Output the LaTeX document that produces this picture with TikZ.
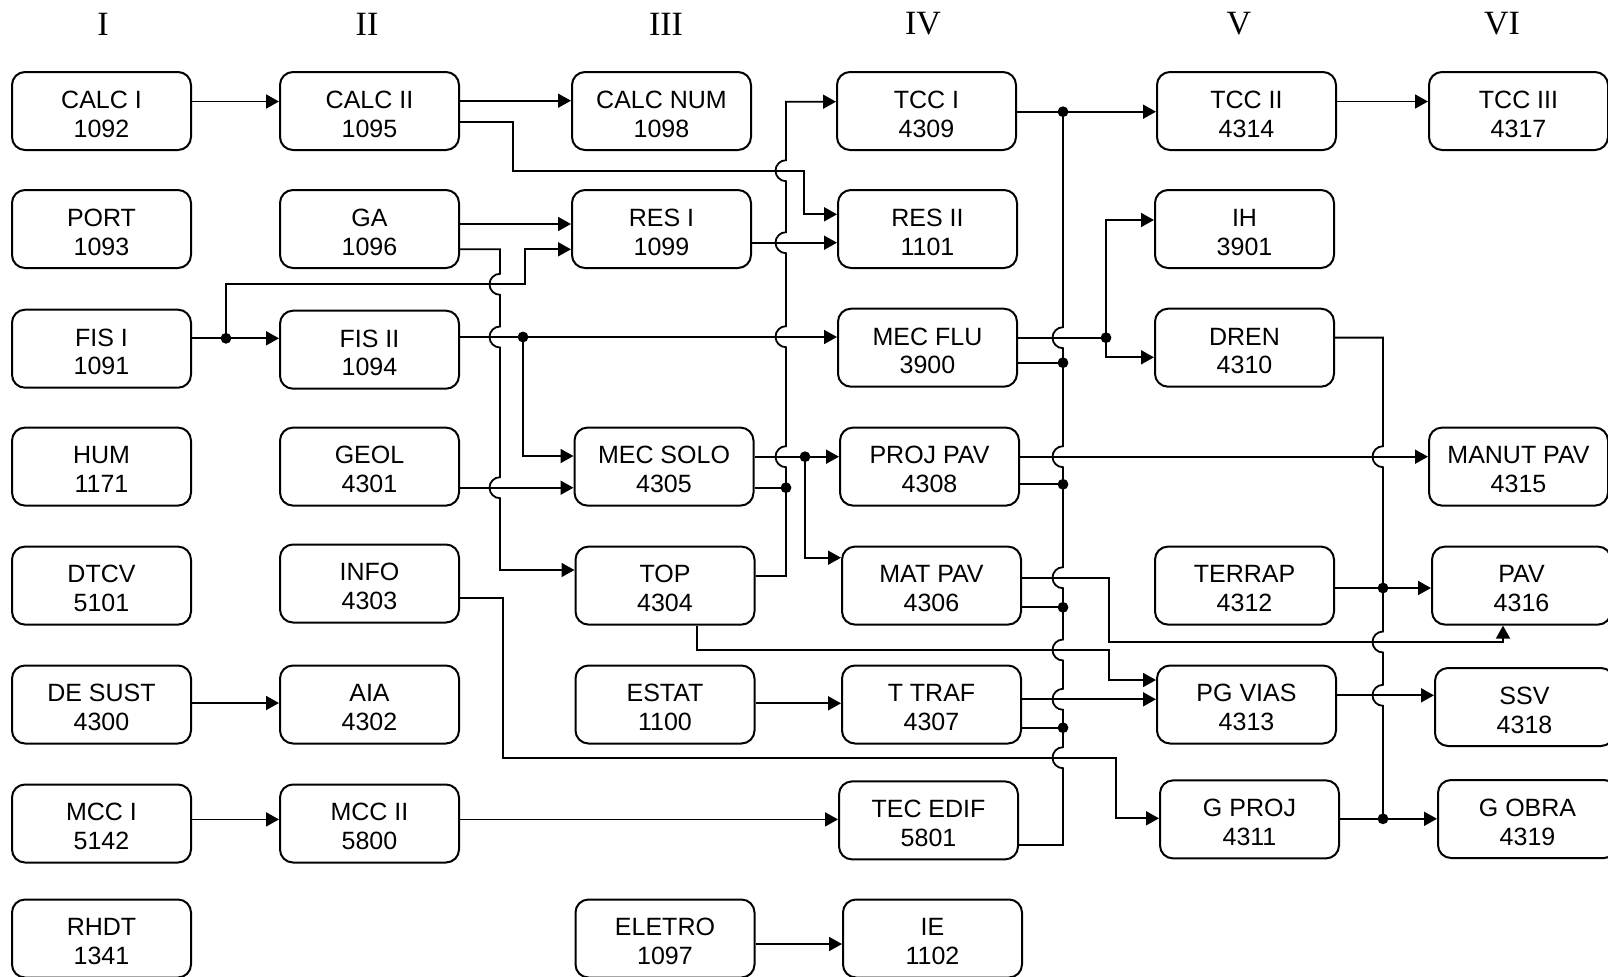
\documentclass[tikz,border=0pt]{standalone}
\usepackage{fontspec}
\setmainfont{Liberation Sans}
\newfontfamily\hdrfont{Liberation Serif}
\usetikzlibrary{arrows.meta}
\newcommand{\jumpdown}[2]{-- (#1,#2-10.5) arc[start angle=90,end angle=270,radius=5.25pt]}
\newcommand{\jumpup}[2]{-- (#1,#2+10.5) arc[start angle=270,end angle=90,radius=5.25pt]}
\newcommand{\twoline}[2]{\raisebox{-3pt}[\height][\depth]{\begin{tabular}{@{}c@{}}#1\\#2\end{tabular}}}
\begin{document}
\begin{tikzpicture}[x=0.5pt,y=-0.5pt,
  box/.style={draw, line width=1pt, rounded corners=6.5pt, minimum width=89.5pt, minimum height=39pt, inner sep=0pt, font=\fontsize{12.5}{14.4}\selectfont},
  hdr/.style={font=\hdrfont\fontsize{17}{17}\selectfont, inner sep=0pt},
  conn/.style={line width=0.9pt},
  arr/.style={conn, -{Triangle[length=6.5pt,width=7pt]}},
  dot/.style={circle, fill, inner sep=0pt, minimum size=5.4pt}]
\useasboundingbox (0,0) rectangle (1608,976);
% headers
\node[hdr] (h1) at (103,24) {I};
\node[hdr] (h2) at (367,24) {II};
\node[hdr] (h3) at (666,24) {III};
\node[hdr] (h4) at (923,24) {IV};
\node[hdr] (h5) at (1239,24) {V};
\node[hdr] (h6) at (1502,24) {VI};
% column I
\node[box] (calci) at (101.5,111) {\twoline{CALC I}{1092}};
\node[box] (port) at (101.5,229) {\twoline{PORT}{1093}};
\node[box] (fisi) at (101.5,348.7) {\twoline{FIS I}{1091}};
\node[box] (hum) at (101.5,466.6) {\twoline{HUM}{1171}};
\node[box] (dtcv) at (101.5,585.6) {\twoline{DTCV}{5101}};
\node[box] (desust) at (101.5,704.5) {\twoline{DE SUST}{4300}};
\node[box] (mcci) at (101.5,823.5) {\twoline{MCC I}{5142}};
\node[box] (rhdt) at (101.5,938.5) {\twoline{RHDT}{1341}};
% column II
\node[box] (calcii) at (369.5,111) {\twoline{CALC II}{1095}};
\node[box] (ga) at (369.5,229) {\twoline{GA}{1096}};
\node[box] (fisii) at (369.5,349.7) {\twoline{FIS II}{1094}};
\node[box] (geol) at (369.5,466.6) {\twoline{GEOL}{4301}};
\node[box] (info) at (369.5,583.5) {\twoline{INFO}{4303}};
\node[box] (aia) at (369.5,704.5) {\twoline{AIA}{4302}};
\node[box] (mccii) at (369.5,823.5) {\twoline{MCC II}{5800}};
% column III
\node[box] (calcnum) at (661.5,111) {\twoline{CALC NUM}{1098}};
\node[box] (resi) at (661.5,229) {\twoline{RES I}{1099}};
\node[box] (mecsolo) at (664,466.6) {\twoline{MEC SOLO}{4305}};
\node[box] (top) at (665,585.6) {\twoline{TOP}{4304}};
\node[box] (estat) at (665,704.5) {\twoline{ESTAT}{1100}};
\node[box] (eletro) at (665,938.5) {\twoline{ELETRO}{1097}};
% column IV
\node[box] (tcci) at (926.5,111) {\twoline{TCC I}{4309}};
\node[box] (resii) at (927.5,229) {\twoline{RES II}{1101}};
\node[box] (mecflu) at (927.5,347.7) {\twoline{MEC FLU}{3900}};
\node[box] (projpav) at (929.5,466.6) {\twoline{PROJ PAV}{4308}};
\node[box] (matpav) at (931.5,585.6) {\twoline{MAT PAV}{4306}};
\node[box] (ttraf) at (931.5,704.5) {\twoline{T TRAF}{4307}};
\node[box] (tecedif) at (928.5,820.4) {\twoline{TEC EDIF}{5801}};
\node[box] (ie) at (932.5,938.5) {\twoline{IE}{1102}};
% column V
\node[box] (tccii) at (1246.5,111) {\twoline{TCC II}{4314}};
\node[box] (ih) at (1244.5,229) {\twoline{IH}{3901}};
\node[box] (dren) at (1244.5,347.7) {\twoline{DREN}{4310}};
\node[box] (terrap) at (1244.5,585.6) {\twoline{TERRAP}{4312}};
\node[box] (pgvias) at (1246.5,704.5) {\twoline{PG VIAS}{4313}};
\node[box] (gproj) at (1249.5,819.4) {\twoline{G PROJ}{4311}};
% column VI
\node[box] (tcciii) at (1518.5,111) {\twoline{TCC III}{4317}};
\node[box] (manutpav) at (1518.5,466.6) {\twoline{MANUT PAV}{4315}};
\node[box] (pav) at (1521.5,585.6) {\twoline{PAV}{4316}};
\node[box] (ssv) at (1524.5,707) {\twoline{SSV}{4318}};
\node[box] (gobra) at (1527.5,819) {\twoline{G OBRA}{4319}};
% junction dots
\node[dot] (d1) at (226,338.3) {};
\node[dot] (d2) at (523,337) {};
\node[dot] (d3) at (786,487.7) {};
\node[dot] (d4) at (805,456.7) {};
\node[dot] (d5) at (1063,111.7) {};
\node[dot] (d6) at (1063,362.7) {};
\node[dot] (d7) at (1063,484.3) {};
\node[dot] (d8) at (1063,607.3) {};
\node[dot] (d9) at (1063,727.7) {};
\node[dot] (d10) at (1106,337.7) {};
\node[dot] (d11) at (1383,588) {};
\node[dot] (d12) at (1383,818.8) {};
% simple connectors
\draw[arr] (calci.east |- 0,101.5) -- (calcii.west |- 0,101.5);
\draw[arr] (calcii.east |- 0,100.7) -- (calcnum.west |- 0,100.7);
\draw[arr] (ga.east |- 0,224) -- (resi.west |- 0,224);
\draw[arr] (fisi.east |- 0,338.3) -- (fisii.west |- 0,338.3);
\draw[arr] (fisii.east |- 0,337) -- (mecflu.west |- 0,337);
\draw[arr] (geol.east |- 0,487.7) -- (mecsolo.west |- 0,487.7);
\draw[arr] (resi.east |- 0,242.7) -- (resii.west |- 0,242.7);
\draw[arr] (mecsolo.east |- 0,456.7) -- (projpav.west |- 0,456.7);
\draw[arr] (tcci.east |- 0,111.7) -- (tccii.west |- 0,111.7);
\draw[arr] (tccii.east |- 0,101.5) -- (tcciii.west |- 0,101.5);
\draw[arr] (projpav.east |- 0,456.7) -- (manutpav.west |- 0,456.7);
\draw[arr] (ttraf.east |- 0,699.3) -- (pgvias.west |- 0,699.3);
\draw[arr] (estat.east |- 0,703.3) -- (ttraf.west |- 0,703.3);
\draw[arr] (terrap.east |- 0,588) -- (pav.west |- 0,588);
\draw[arr] (pgvias.east |- 0,695.3) -- (ssv.west |- 0,695.3);
\draw[arr] (gproj.east |- 0,818.8) -- (gobra.west |- 0,818.8);
\draw[arr] (desust.east |- 0,703) -- (aia.west |- 0,703);
\draw[arr] (mcci.east |- 0,819.4) -- (mccii.west |- 0,819.4);
\draw[arr] (mccii.east |- 0,819.4) -- (tecedif.west |- 0,819.4);
\draw[arr] (eletro.east |- 0,944) -- (ie.west |- 0,944);
% routed connectors
\draw[arr] (calcii.east |- 0,121.7) -- (513,121.7) -- (513,170.7) -- (804,170.7) -- (804,214.3) -- (resii.west |- 0,214.3);
\draw[arr] (ga.east |- 0,249.3) -- (500,249.3) \jumpdown{500}{284.3} \jumpdown{500}{337} \jumpdown{500}{487.7} -- (500,570) -- (top.west |- 0,570);
\draw[arr] (d1.center) -- (226,284.3) -- (525,284.3) -- (525,249.3) -- (resi.west |- 0,249.3);
\draw[arr] (d2.center) -- (523,456) -- (mecsolo.west |- 0,456);
\draw[arr] (top.east |- 0,576) -- (786,576) \jumpup{786}{456.7} \jumpup{786}{336.7} \jumpup{786}{242.7} \jumpup{786}{170.7} -- (786,101.7) -- (tcci.west |- 0,101.7);
\draw[conn] (mecsolo.east |- 0,487.7) -- (d3.center);
\draw[arr] (d4.center) -- (805,557.7) -- (matpav.west |- 0,557.7);
% TCC II bus
\draw[conn] (d5.center) \jumpdown{1063}{337.7} \jumpdown{1063}{456.7} \jumpdown{1063}{577.7} \jumpdown{1063}{650} \jumpdown{1063}{699.3} \jumpdown{1063}{757.7} -- (1063,845) -- (tecedif.east |- 0,845);
\draw[conn] (mecflu.east |- 0,362.7) -- (d6.center);
\draw[conn] (projpav.east |- 0,484.3) -- (d7.center);
\draw[conn] (matpav.east |- 0,607.3) -- (d8.center);
\draw[conn] (ttraf.east |- 0,727.7) -- (d9.center);
% MEC FLU to IH / DREN
\draw[conn] (mecflu.east |- 0,337.7) -- (d10.center);
\draw[arr] (d10.center) -- (1106,220) -- (ih.west |- 0,220);
\draw[arr] (d10.center) -- (1106,357.3) -- (dren.west |- 0,357.3);
% MAT PAV to PAV, TOP to PG VIAS
\draw[arr] (matpav.east |- 0,577.7) -- (1109,577.7) -- (1109,642) -- (1503,642) -- (pav.south -| 1503,0);
\draw[arr] (top.south -| 697,0) -- (697,650) -- (1109,650) -- (1109,680) -- (pgvias.west |- 0,680);
% INFO to G PROJ
\draw[arr] (info.east |- 0,597.7) -- (503,597.7) -- (503,757.7) -- (1116,757.7) -- (1116,818.3) -- (gproj.west |- 0,818.3);
% DREN bus
\draw[conn] (dren.east |- 0,337.6) -- (1383,337.6) \jumpdown{1383}{456.7} \jumpdown{1383}{642} \jumpdown{1383}{695.3} -- (d12.center);
\end{tikzpicture}
\end{document}
